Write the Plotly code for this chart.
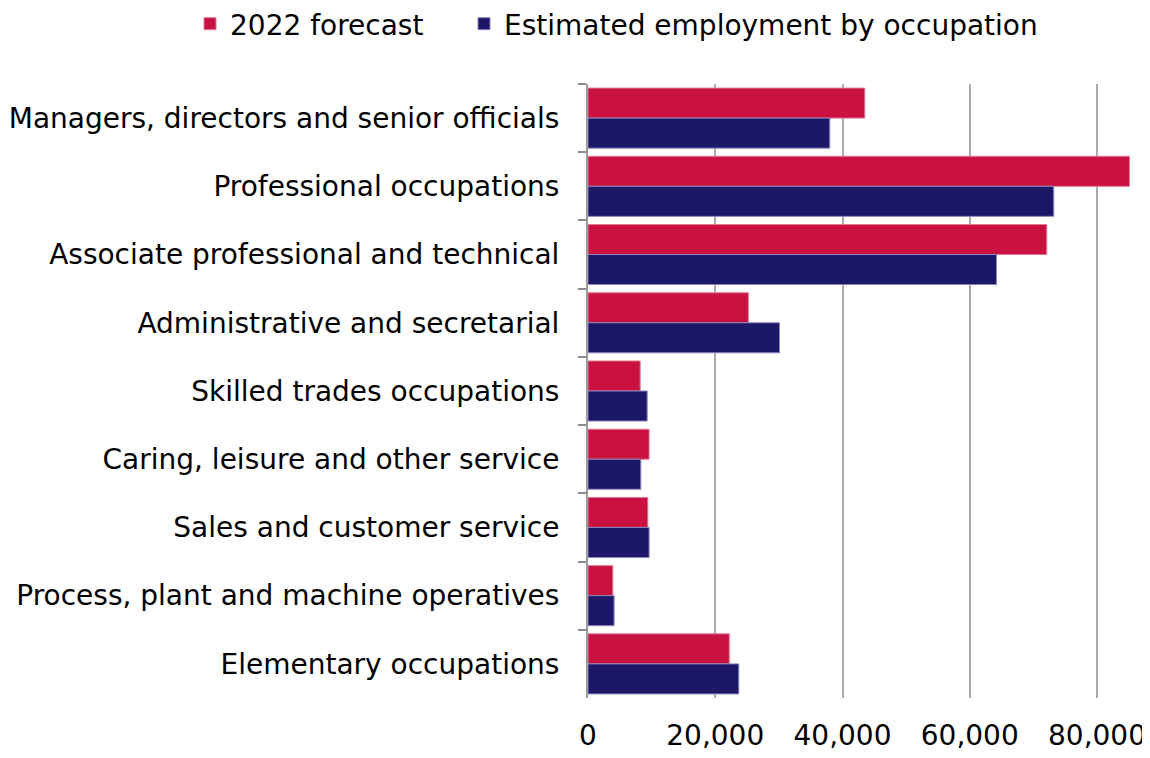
import plotly.graph_objects as go

categories = [
    "Managers, directors and senior officials",
    "Professional occupations",
    "Associate professional and technical",
    "Administrative and secretarial",
    "Skilled trades occupations",
    "Caring, leisure and other service",
    "Sales and customer service",
    "Process, plant and machine operatives",
    "Elementary occupations",
]
forecast_2022 = [43500, 85100, 72100, 25200, 8200, 9600, 9400, 3900, 22200]
estimated_employment = [38000, 73200, 64200, 30100, 9300, 8300, 9600, 4100, 23700]
x_ticks = [0, 20000, 40000, 60000, 80000]
x_tick_labels = ["0", "20,000", "40,000", "60,000", "80,000"]
series_names = ["2022 forecast", "Estimated employment by occupation"]

RED = "#C91240"
NAVY = "#1C1767"
FONT = "DejaVu Sans"
FS = 28
PAD = "\u00a0" * 4  # spacing between legend entries

# page body has an 8px default margin: figure is drawn 8px right/down
W, H = 1142, 750
L, T = 580, 76
PW, PH = 544, 614

fig = go.Figure()
fig.add_trace(go.Bar(
    y=categories, x=forecast_2022, orientation="h", name=series_names[0] + PAD,
    marker=dict(color=RED, line=dict(color="#E27A95", width=1)),
))
fig.add_trace(go.Bar(
    y=categories, x=estimated_employment, orientation="h",
    name=series_names[1],
    marker=dict(color=NAVY, line=dict(color="#8A86C0", width=1)),
))

fig.update_layout(
    width=W, height=H,
    margin=dict(l=L, r=W - L - PW, t=T, b=H - T - PH, autoexpand=False),
    paper_bgcolor="white", plot_bgcolor="white",
    barmode="group", bargap=0.12, bargroupgap=0,
    font=dict(family=FONT, size=FS, color="black"),
    legend=dict(
        orientation="h", xref="paper", yref="paper",
        x=(182 - L) / PW, xanchor="left", y=1 + 85 / PH, yanchor="top",
        font=dict(family=FONT, size=FS, color="black"),
        traceorder="normal",
        bgcolor="rgba(0,0,0,0)",
    ),
    showlegend=True,
)
fig.update_xaxes(
    range=[0, 85500], tickvals=x_ticks, ticktext=x_tick_labels,
    showgrid=True, gridcolor="#ABABAB", gridwidth=2,
    zeroline=False, showline=False, ticks="",
    ticklabelstandoff=18,
    tickfont=dict(family=FONT, size=FS, color="black"),
)
fig.update_yaxes(
    autorange="reversed", type="category",
    showline=True, linecolor="#9A9A9A", linewidth=2,
    ticks="outside", tickson="boundaries", ticklen=8, tickcolor="#8C8C8C", tickwidth=2,
    ticklabelstandoff=21, showgrid=False,
    tickfont=dict(family=FONT, size=FS, color="black"),
)

fig.write_html("out.html")
